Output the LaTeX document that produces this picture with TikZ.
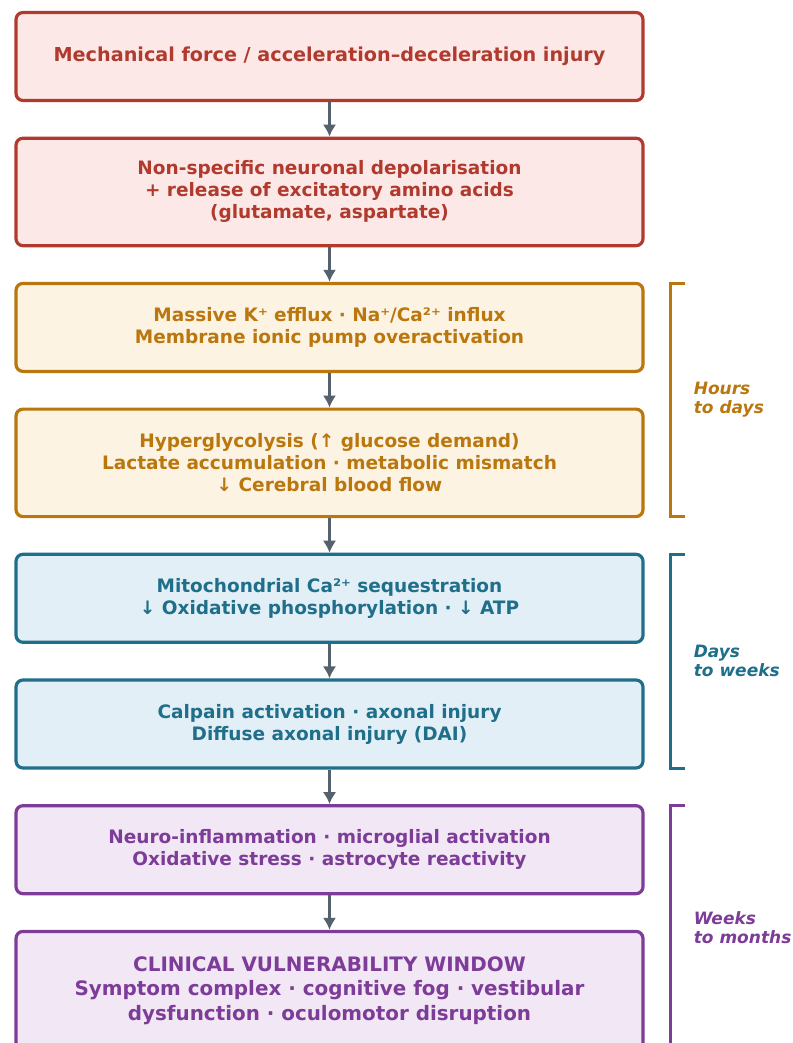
\documentclass[tikz,border=0pt]{standalone}
\usepackage{fontspec}
\setmainfont{DejaVu Sans}
\usetikzlibrary{arrows.meta,positioning,calc}
\definecolor{tbired}{HTML}{B03A2E}
\definecolor{tbiredbg}{HTML}{FCE9E7}
\definecolor{tbiamber}{HTML}{B9770E}
\definecolor{tbiamberbg}{HTML}{FDF3E2}
\definecolor{tbiblue}{HTML}{1F6F8B}
\definecolor{tbibluebg}{HTML}{E3EFF6}
\definecolor{tbiviolet}{HTML}{7D3C98}
\definecolor{tbivioletbg}{HTML}{F1E7F5}
\definecolor{tbiarrow}{HTML}{56616E}
\tikzset{
  cascade/.style={-{Latex[length=12pt,width=13.5pt]}, line width=3pt, draw=tbiarrow},
  stagebox/.style={rounded corners=7pt, line width=3.2pt, align=center,
    minimum width=627pt, minimum height=88pt, inner sep=0pt,
    font=\bfseries\fontsize{18.5}{22}\selectfont},
  tallbox/.style={stagebox, minimum height=107.5pt},
  acute/.style={draw=tbired, fill=tbiredbg, text=tbired},
  ionic/.style={draw=tbiamber, fill=tbiamberbg, text=tbiamber},
  mito/.style={draw=tbiblue, fill=tbibluebg, text=tbiblue},
  inflam/.style={draw=tbiviolet, fill=tbivioletbg, text=tbiviolet},
  phase/.style={line width=3pt},
  phaselabel/.style={anchor=west, align=left, inner sep=0pt,
    font=\bfseries\itshape\fontsize{17}{19}\selectfont}
}
\begin{document}
\begin{tikzpicture}[x=1pt, y=1pt, node distance=34.5pt]
  \useasboundingbox (0,0) rectangle (792,-1043);

  \node[stagebox, acute, font=\bfseries\fontsize{19.2}{22}\selectfont] (force) at (329.5,-56.5)
    {Mechanical force / acceleration–deceleration injury};
  \node[tallbox, acute, below=of force] (depol)
    {Non-specific neuronal depolarisation\\+ release of excitatory amino acids\\(glutamate, aspartate)};
  \node[stagebox, ionic, below=of depol] (efflux)
    {Massive K⁺ efflux · Na⁺/Ca²⁺ influx\\Membrane ionic pump overactivation};
  \node[tallbox, ionic, below=of efflux] (glyco)
    {Hyperglycolysis (↑ glucose demand)\\Lactate accumulation · metabolic mismatch\\↓ Cerebral blood flow};
  \node[stagebox, mito, below=of glyco] (seq)
    {Mitochondrial Ca²⁺ sequestration\\↓ Oxidative phosphorylation · ↓ ATP};
  \node[stagebox, mito, below=of seq] (calpain)
    {Calpain activation · axonal injury\\Diffuse axonal injury (DAI)};
  \node[stagebox, inflam, below=of calpain] (neuro)
    {Neuro-inflammation · microglial activation\\Oxidative stress · astrocyte reactivity};
  \node[tallbox, inflam, below=of neuro, minimum height=118pt,
        font=\bfseries\fontsize{19.9}{24.5}\selectfont] (window)
    {CLINICAL VULNERABILITY WINDOW\\Symptom complex · cognitive fog · vestibular\\dysfunction · oculomotor disruption};

  \foreach \a/\b in {force/depol,depol/efflux,efflux/glyco,glyco/seq,seq/calpain,calpain/neuro,neuro/window}
    \draw[cascade] (\a) -- (\b);

  % time-course brackets
  \foreach \top/\bot/\col/\txt in {efflux/glyco/tbiamber/Hours\\to days,
                                   seq/calpain/tbiblue/Days\\to weeks,
                                   neuro/window/tbiviolet/Weeks\\to months}{
    \coordinate (\top-a) at ($(\top.north east)+(40,-1.5)$);
    \coordinate (\top-b) at ($(\top.north east)+(26,-1.5)$);
    \coordinate (\top-c) at ($(\bot.south east)+(26,1.5)$);
    \coordinate (\top-d) at ($(\bot.south east)+(40,1.5)$);
    \draw[phase, draw=\col] (\top-a) -- (\top-b) -- (\top-c) -- (\top-d);
    \node[phaselabel, text=\col] (\top-lbl) at ($(\top-b)!0.5!(\top-c)+(23,0)$) {\txt};
  }
\end{tikzpicture}
\end{document}
